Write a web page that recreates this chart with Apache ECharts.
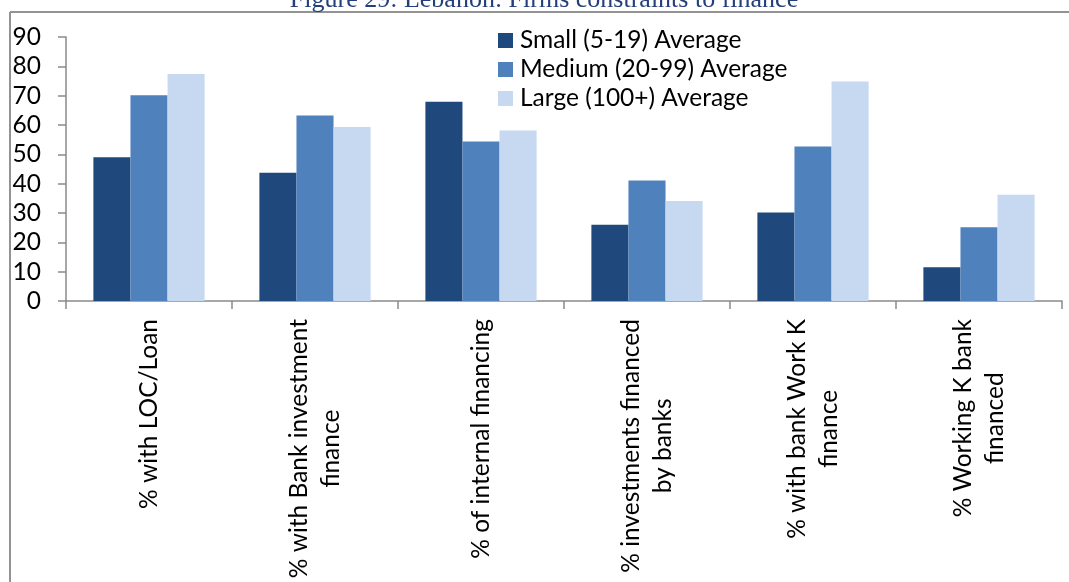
<!DOCTYPE html>
<html>
<head>
<meta charset="utf-8">
<script src="https://cdn.jsdelivr.net/npm/echarts@6/dist/echarts.min.js"></script>
<style>
html,body{margin:0;padding:0;background:#fff;}
#chart{width:1069px;height:582px;}
</style>
</head>
<body>
<div id="chart"></div>
<script>
const titleText = 'Figure 29: Lebanon: Firms constraints to finance';
const categories = [
  '% with LOC/Loan',
  '% with Bank investment\nfinance',
  '% of internal financing',
  '% investments financed\nby banks',
  '% with bank Work K\nfinance',
  '% Working K bank\nfinanced'
];
const seriesNames = ['Small (5-19) Average', 'Medium (20-99) Average', 'Large (100+) Average'];
const smallValues  = [49.0, 43.7, 67.9, 26.0, 30.2, 11.5];
const mediumValues = [70.1, 63.2, 54.4, 41.1, 52.7, 25.1];
const largeValues  = [77.4, 59.3, 58.1, 34.1, 74.8, 36.2];
const yTicks = [0, 10, 20, 30, 40, 50, 60, 70, 80, 90];

const FONT = 'Lato';
const FS = 24.5;
const colors = ['#1F497D', '#4F81BD', '#C6D9F1'];
const axisGray = '#8A8A8A';

const chart = echarts.init(document.getElementById('chart'), null, {renderer: 'canvas'});
const dataSets = [smallValues, mediumValues, largeValues];

chart.setOption({
  animation: false,
  backgroundColor: '#fff',
  color: colors,
  graphic: [
    {type: 'line', shape: {x1: 10, y1: 12, x2: 1069, y2: 12}, style: {stroke: '#939393', lineWidth: 2}, z: 1},
    {type: 'line', shape: {x1: 10, y1: 12, x2: 10, y2: 582}, style: {stroke: '#939393', lineWidth: 2}, z: 1},
    {type: 'text', x: 544, y: 0, style: {text: titleText, fontFamily: 'Liberation Serif', fontSize: 26, fill: '#243F7A', align: 'center', verticalAlign: 'middle'}, z: 2}
  ],
  legend: {
    orient: 'vertical',
    left: 498,
    top: 26,
    padding: 0,
    itemGap: 0,
    itemWidth: 15,
    itemHeight: 15,
    icon: 'rect',
    data: seriesNames,
    textStyle: {fontFamily: FONT, fontSize: FS, color: '#000', lineHeight: 29, padding: [0, 0, 0, 2]}
  },
  grid: {left: 66, right: 7, top: 37, bottom: 281, containLabel: false},
  xAxis: {
    type: 'category',
    data: categories,
    axisLine: {lineStyle: {color: axisGray, width: 1.5}},
    axisTick: {show: true, length: 8, lineStyle: {color: axisGray, width: 1.5}},
    axisLabel: {
      rotate: 90,
      margin: 18,
      interval: 0,
      color: '#000',
      fontFamily: FONT,
      fontSize: FS,
      lineHeight: 32,
      formatter: function (v) {
        return v.split('\n').map(s => '{c|' + s + '}').join('\n');
      },
      rich: {c: {align: 'center', fontFamily: FONT, fontSize: FS, lineHeight: 32, color: '#000'}}
    }
  },
  yAxis: {
    type: 'value',
    min: yTicks[0],
    max: yTicks[yTicks.length - 1],
    interval: 10,
    axisLine: {show: true, lineStyle: {color: axisGray, width: 1.5}},
    axisTick: {show: true, length: 8, lineStyle: {color: axisGray, width: 1.5}},
    splitLine: {show: false},
    axisLabel: {margin: 25, color: '#000', fontFamily: FONT, fontSize: FS}
  },
  series: seriesNames.map((name, i) => ({
    name: name,
    type: 'bar',
    data: dataSets[i],
    barGap: '0%',
    barCategoryGap: '33%',
    itemStyle: {color: colors[i]}
  }))
});
</script>
</body>
</html>
